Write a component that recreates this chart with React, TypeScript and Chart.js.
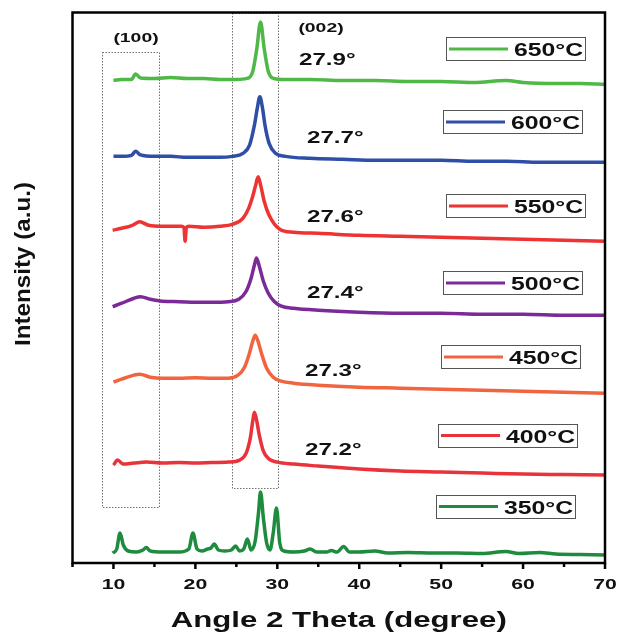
import React, { useEffect, useRef } from 'react';
import { Chart, registerables } from 'chart.js';

Chart.register(...registerables);

// ---------- data ----------
const seriesNames = ['650°C', '600°C', '550°C', '500°C', '450°C', '400°C', '350°C'];
const seriesColors = ['#4fb847', '#2f4ea6', '#ee3333', '#7b2a97', '#f06540', '#e8333b', '#1e8b3e'];
const peakLabels = ['27.9°', '27.7°', '27.6°', '27.4°', '27.3°', '27.2°'];
const planeLabels = ['(100)', '(002)'];
const xTickLabels = [10, 20, 30, 40, 50, 60, 70];
const xMinorTicks = [5, 15, 25, 35, 45, 55, 65];

const x650 = [10, 11, 12.2, 12.7, 13.3, 15, 17, 19, 21, 23, 25, 26.3, 27.0, 27.5, 27.95, 28.4, 28.9, 29.6, 31, 34, 38, 42, 46, 50, 54, 57.9, 60, 64, 67, 70];
const y650 = [483, 484, 484, 489.5, 485.5, 485, 486, 485, 485, 484, 484, 485, 492, 515, 541.6, 515, 492, 485, 484, 484, 483, 483, 482, 482, 481, 483, 481, 480, 480, 479];

const x600 = [10, 11, 12.2, 12.7, 13.3, 15, 17, 19, 21, 23, 24.5, 25.8, 26.6, 27.2, 27.55, 27.87, 28.2, 28.5, 29.0, 29.8, 31, 34, 38, 42, 46, 50, 54, 58, 62, 66, 70];
const y600 = [407, 407, 408, 412, 408.5, 407, 407, 406, 406, 406, 407, 410, 418, 438, 455, 466.6, 455, 438, 420, 410, 407, 405, 404, 403, 403, 403, 402, 402, 401, 401, 401];

const x550 = [9.9, 11, 12.3, 13.2, 14.3, 16, 18.3, 18.6, 18.75, 18.9, 19.2, 21, 23, 24.5, 25.8, 26.5, 27.0, 27.35, 27.66, 28.0, 28.4, 29.0, 30.3, 32, 35, 40, 45, 50, 55, 60, 65, 70];
const y550 = [333, 335, 338, 341.5, 338, 337, 337, 336, 322, 336, 337, 336, 337, 339, 345, 355, 367, 378, 386.6, 377, 362, 348, 334, 331, 330, 328, 327, 326, 325, 324, 323, 322];

const x500 = [9.9, 11, 12.5, 13.3, 14.5, 16, 18, 20, 22, 24, 25.3, 26.2, 26.8, 27.2, 27.46, 27.8, 28.3, 28.9, 29.6, 30.5, 32, 35, 40, 45, 50, 55, 60, 65, 70];
const y500 = [256.6, 260, 265, 266.6, 264, 262, 261.6, 261, 261, 261.6, 264, 272, 285, 298, 305.3, 297, 282, 270, 262, 257, 255, 253, 251, 250, 250, 249, 249, 248, 248];

const x450 = [10, 11, 12.5, 13.2, 14.5, 16, 18, 20, 22, 24, 25.2, 26.0, 26.6, 27.0, 27.3, 27.6, 28.1, 28.7, 29.5, 30.5, 32, 35, 40, 45, 50, 55, 60, 65, 70];
const y450 = [181, 184, 188, 189, 186, 185, 185, 185.5, 185, 185, 188, 196, 210, 222, 228, 223, 209, 195, 186, 182, 180, 178, 176, 175, 174, 173, 172, 171, 170];

const x400 = [10, 10.5, 11.2, 12.5, 14, 16, 18, 20, 22, 24, 25.4, 26.2, 26.7, 27.0, 27.2, 27.45, 27.8, 28.3, 29.0, 30, 32, 35, 40, 45, 50, 55, 60, 65, 70];
const y400 = [98, 103, 99, 100, 101, 100, 100.5, 100, 100.5, 101, 103, 110, 125, 142, 151, 144, 128, 112, 104, 101, 99, 97, 94, 92, 91, 90, 89, 88.5, 88];

const x350 = [9.9, 10.4, 10.8, 11.2, 11.8, 12.8, 13.6, 14.0, 14.5, 16.0, 18.0, 19.2, 19.7, 20.2, 20.8, 21.5, 21.9, 22.3, 22.8, 23.6, 24.4, 24.9, 25.4, 25.9, 26.35, 26.8, 27.3, 27.7, 27.95, 28.3, 28.7, 29.1, 29.5, 29.9, 30.3, 30.8, 32.0, 33.3, 34.0, 34.8, 36.0, 36.6, 37.3, 38.1, 38.8, 40.0, 41.9, 43.5, 46.0, 49.0, 52.0, 55.0, 57.9, 59.5, 62.0, 64.0, 67.0, 70.0];
const y350 = [10, 14, 30, 18, 12, 11, 13, 15.5, 12, 11, 11, 14, 30, 14, 12, 14, 15, 19, 13, 12, 13, 17, 12, 14, 24, 13, 22, 50, 71, 45, 20, 13, 30, 55, 20, 12, 11, 12, 14, 11, 11, 12.5, 11, 16.5, 11, 11, 12, 10, 10.5, 10, 10, 9.5, 11.5, 9.5, 10.5, 9, 8.5, 8];

const seriesX = [x650, x600, x550, x500, x450, x400, x350];
const seriesY = [y650, y600, y550, y500, y450, y400, y350];

// dotted highlight regions (degrees / intensity)
const regionX0 = [8.63, 24.5];
const regionX1 = [15.55, 30.1];
const regionY0 = [56.6, 76];
const regionY1 = [511.6, 551];

// ---------- layout (pixels) ----------
const legendBoxes = [
  [446, 37], [443, 110], [446, 194], [443, 271], [441, 345], [438, 423.5], [436, 494.5],
];
const peakLabelPos = [
  [299, 65], [307, 142.7], [307, 221.7], [307, 298], [305, 376], [305, 455],
];
const planeLabelPos = [[136, 42.3], [321, 32.3]];

function drawText(ctx: CanvasRenderingContext2D, text: string, x: number, y: number, font: string, sx: number, align: CanvasTextAlign) {
  ctx.save();
  ctx.translate(x, y);
  ctx.scale(sx, 1);
  ctx.font = font;
  ctx.textAlign = align;
  ctx.textBaseline = 'alphabetic';
  ctx.fillStyle = '#111';
  ctx.fillText(text, 0, 0);
  ctx.restore();
}

const FONT = '"Liberation Sans", Arial, sans-serif';

const overlay = {
  id: 'overlay',
  beforeDatasetsDraw(chart: any) {
    const { ctx, scales } = chart;
    const xs = scales.x, ys = scales.y;
    ctx.save();
    ctx.strokeStyle = '#707070';
    ctx.lineWidth = 1;
    ctx.setLineDash([1.5, 1.5]);
    for (let i = 0; i < regionX0.length; i++) {
      const l = xs.getPixelForValue(regionX0[i]);
      const r = xs.getPixelForValue(regionX1[i]);
      const t = ys.getPixelForValue(regionY1[i]);
      const b = ys.getPixelForValue(regionY0[i]);
      ctx.strokeRect(Math.round(l) + 0.5, Math.round(t) + 0.5, Math.round(r - l), Math.round(b - t));
    }
    ctx.restore();
  },
  afterDatasetsDraw(chart: any) {
    const { ctx, chartArea: a, scales } = chart;
    const xs = scales.x;
    ctx.save();
    // frame
    ctx.strokeStyle = '#000';
    ctx.lineWidth = 2.5;
    ctx.strokeRect(a.left, a.top, a.right - a.left, a.bottom - a.top);
    // ticks
    xTickLabels.forEach((v) => {
      const px = xs.getPixelForValue(v);
      ctx.beginPath(); ctx.moveTo(px, a.bottom); ctx.lineTo(px, a.bottom + 6); ctx.stroke();
      drawText(ctx, String(v), px, 589, `bold 15.5px ${FONT}`, 1.37, 'center');
    });
    xMinorTicks.forEach((v) => {
      const px = xs.getPixelForValue(v);
      ctx.beginPath(); ctx.moveTo(px, a.bottom); ctx.lineTo(px, a.bottom + 4); ctx.stroke();
    });
    // axis titles
    drawText(ctx, 'Angle 2 Theta (degree)', (a.left + a.right) / 2, 627, `bold 21.5px ${FONT}`, 1.45, 'center');
    ctx.save();
    ctx.translate(30, 264);
    ctx.rotate(-Math.PI / 2);
    ctx.scale(1.1, 1);
    ctx.font = `bold 22px ${FONT}`;
    ctx.textAlign = 'center';
    ctx.textBaseline = 'alphabetic';
    ctx.fillStyle = '#111';
    ctx.fillText('Intensity (a.u.)', 0, 0);
    ctx.restore();
    // plane labels
    planeLabels.forEach((t, i) => drawText(ctx, t, planeLabelPos[i][0], planeLabelPos[i][1], `bold 12.5px ${FONT}`, 1.55, 'center'));
    // peak labels
    peakLabels.forEach((t, i) => drawText(ctx, t, peakLabelPos[i][0], peakLabelPos[i][1], `bold 17px ${FONT}`, 1.42, 'left'));
    // legends
    seriesNames.forEach((name, i) => {
      const [bx, by] = legendBoxes[i];
      ctx.strokeStyle = '#555';
      ctx.lineWidth = 1;
      ctx.strokeRect(Math.round(bx) + 0.5, Math.round(by) + 0.5, 139, 23);
      ctx.strokeStyle = seriesColors[i];
      ctx.lineWidth = 3;
      ctx.beginPath(); ctx.moveTo(bx + 3, by + 12); ctx.lineTo(bx + 62, by + 12); ctx.stroke();
      drawText(ctx, name, bx + 68, by + 19, `bold 18.5px ${FONT}`, 1.34, 'left');
    });
    ctx.restore();
  },
};

export default function App() {
  const ref = useRef<HTMLCanvasElement | null>(null);
  useEffect(() => {
    if (!ref.current) return;
    const datasets = seriesNames.map((name, i) => ({
      label: name,
      data: seriesX[i].map((x, j) => ({ x, y: seriesY[i][j] })),
      borderColor: seriesColors[i],
      backgroundColor: seriesColors[i],
      borderWidth: 3.5,
      pointRadius: 0,
      cubicInterpolationMode: 'monotone' as const,
      fill: false,
    }));
    const chart = new Chart(ref.current, {
      type: 'line',
      data: { datasets },
      options: {
        animation: false,
        responsive: false,
        devicePixelRatio: 1,
        layout: { padding: { left: 72.5, right: 14, top: 12.5, bottom: 70 } },
        plugins: { legend: { display: false }, tooltip: { enabled: false } },
        scales: {
          x: { type: 'linear', min: 5, max: 70, display: false },
          y: { type: 'linear', min: 0, max: 551, display: false },
        },
      },
      plugins: [overlay],
    });
    return () => chart.destroy();
  }, []);
  return (
    <div style={{ position: 'absolute', left: 0, top: 0, width: 619, height: 633, background: '#fff' }}>
      <canvas ref={ref} width={619} height={633} style={{ display: 'block' }} />
    </div>
  );
}
